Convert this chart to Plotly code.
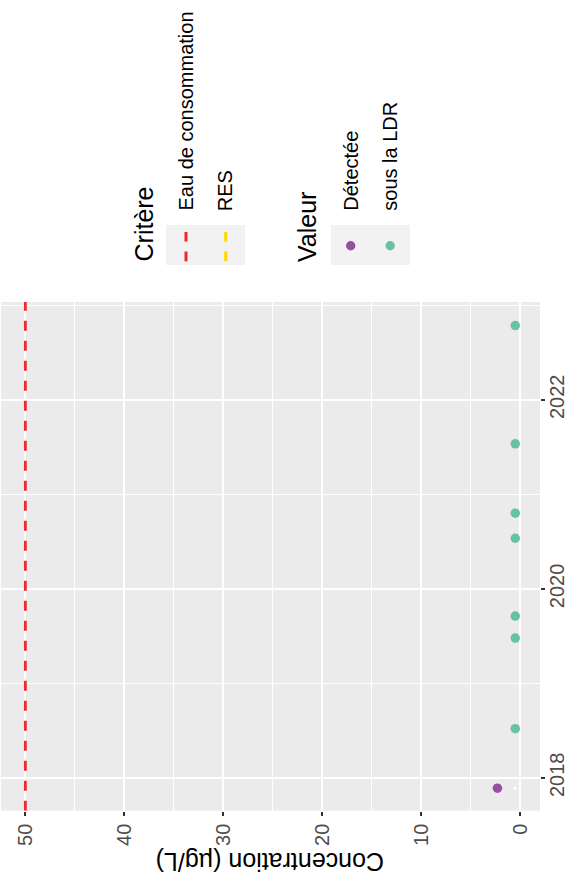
import plotly.graph_objects as go

W, H = 571, 886
FONT = "Liberation Sans, Arial, sans-serif"

# ---- data ----
dates_detectee = ["2017-11-22"]
values_detectee = [2.3]
dates_ldr = ["2018-07-10", "2019-06-25", "2019-09-18", "2020-07-15",
             "2020-10-20", "2021-07-15", "2022-10-15"]
values_ldr = [0.5, 0.5, 0.5, 0.5, 0.5, 0.5, 0.5]
dates_na = ["2017-11-22"]
values_na = [0.5]
critere_names = ["Eau de consommation", "RES"]
critere_values = [50]
critere_colors = ["#F2262E", "#FFD700"]
valeur_names = ["Détectée", "sous la LDR"]
valeur_colors = ["#984EA3", "#66C2A5"]
date_range = ["2017-08-27", "2023-01-14"]
conc_range = [52.46, -2.0]
conc_ticks = [0, 10, 20, 30, 40, 50]


def px(x):
    return x / W


def py(y):
    return 1 - y / H


fig = go.Figure()

# criterion line (Eau de consommation)
for v in critere_values:
    fig.add_trace(go.Scatter(
        x=[v, v], y=[date_range[0], date_range[1]], mode="lines",
        line=dict(color=critere_colors[0], width=2.8, dash="10px,10px"),
        showlegend=False, hoverinfo="skip"))

fig.add_trace(go.Scatter(
    x=values_na, y=dates_na, mode="markers",
    marker=dict(color="white", size=3), showlegend=False))
fig.add_trace(go.Scatter(
    x=values_detectee, y=dates_detectee, mode="markers",
    marker=dict(color=valeur_colors[0], size=9.5), showlegend=False))
fig.add_trace(go.Scatter(
    x=values_ldr, y=dates_ldr, mode="markers",
    marker=dict(color=valeur_colors[1], size=9.5), showlegend=False))

fig.update_layout(
    width=W, height=H,
    margin=dict(l=0, r=0, t=0, b=0),
    paper_bgcolor="white",
    plot_bgcolor="#EBEBEB",
    font=dict(family=FONT),
    showlegend=False,
    xaxis=dict(
        domain=[px(1), px(540)], range=conc_range,
        tickvals=conc_ticks, ticktext=[str(t) for t in conc_ticks],
        tickangle=-90, ticks="outside", ticklen=4, tickwidth=1.6,
        tickcolor="#333333", tickfont=dict(size=20, color="#4D4D4D", family=FONT),
        showgrid=True, gridcolor="white", gridwidth=2, zeroline=False,
        showline=False, automargin=False,
        minor=dict(dtick=5, tick0=0, showgrid=True, gridcolor="white",
                   gridwidth=1, ticks=""),
    ),
    yaxis=dict(
        domain=[py(810.7), py(302)], range=date_range, type="date",
        side="right", tick0="2018-01-01", dtick="M24", tickformat="%Y",
        tickangle=-90, ticks="outside", ticklen=4, tickwidth=1.6,
        ticklabelstandoff=-5,
        tickcolor="#333333", tickfont=dict(size=20, color="#4D4D4D", family=FONT),
        showgrid=True, gridcolor="white", gridwidth=2, zeroline=False,
        showline=False, automargin=False,
        minor=dict(dtick="M12", tick0="2017-01-01", showgrid=True,
                   gridcolor="white", gridwidth=1, ticks=""),
    ),
)

annotations = []
shapes = []

# axis title (upside down)
annotations.append(dict(
    text="Concentration (µg/L)", x=px(270.5), y=py(862), xref="paper", yref="paper",
    showarrow=False, textangle=180, font=dict(size=25, color="black", family=FONT),
    xanchor="center", yanchor="middle"))

# legend: Critère
annotations.append(dict(
    text="Critère", x=px(143), y=py(264), xref="paper", yref="paper",
    showarrow=False, textangle=-90, font=dict(size=25, color="black", family=FONT),
    xanchor="center", yanchor="bottom"))
shapes.append(dict(type="rect", xref="paper", yref="paper",
                   x0=px(166), x1=px(245), y0=py(265), y1=py(225),
                   fillcolor="#F2F2F2", line=dict(width=0), layer="below"))
for i, (name, col) in enumerate(zip(critere_names, critere_colors)):
    xc = 186 + i * 39.7
    for (a, b) in [(232, 241.5), (251.5, 261.3)]:
        shapes.append(dict(type="line", xref="paper", yref="paper",
                           x0=px(xc), x1=px(xc), y0=py(a), y1=py(b),
                           line=dict(color=col, width=3)))
    annotations.append(dict(
        text=name, x=px(xc), y=py(213), xref="paper", yref="paper",
        showarrow=False, textangle=-90, font=dict(size=20, color="black", family=FONT),
        xanchor="center", yanchor="bottom"))

# legend: Valeur
annotations.append(dict(
    text="Valeur", x=px(307), y=py(264), xref="paper", yref="paper",
    showarrow=False, textangle=-90, font=dict(size=25, color="black", family=FONT),
    xanchor="center", yanchor="bottom"))
shapes.append(dict(type="rect", xref="paper", yref="paper",
                   x0=px(331), x1=px(410), y0=py(265), y1=py(225),
                   fillcolor="#F2F2F2", line=dict(width=0), layer="below"))
for i, (name, col) in enumerate(zip(valeur_names, valeur_colors)):
    xc = 350.7 + i * 39.5
    shapes.append(dict(type="circle", xref="paper", yref="paper",
                       x0=px(xc - 4.7), x1=px(xc + 4.7),
                       y0=py(245.7 + 4.7), y1=py(245.7 - 4.7),
                       fillcolor=col, line=dict(width=0)))
    annotations.append(dict(
        text=name, x=px(xc), y=py(213), xref="paper", yref="paper",
        showarrow=False, textangle=-90, font=dict(size=20, color="black", family=FONT),
        xanchor="center", yanchor="bottom"))

fig.update_layout(annotations=annotations, shapes=shapes)
fig.write_html("out.html", config={"displayModeBar": False},
               post_script="document.body.style.margin='0';document.body.style.overflow='hidden';")
